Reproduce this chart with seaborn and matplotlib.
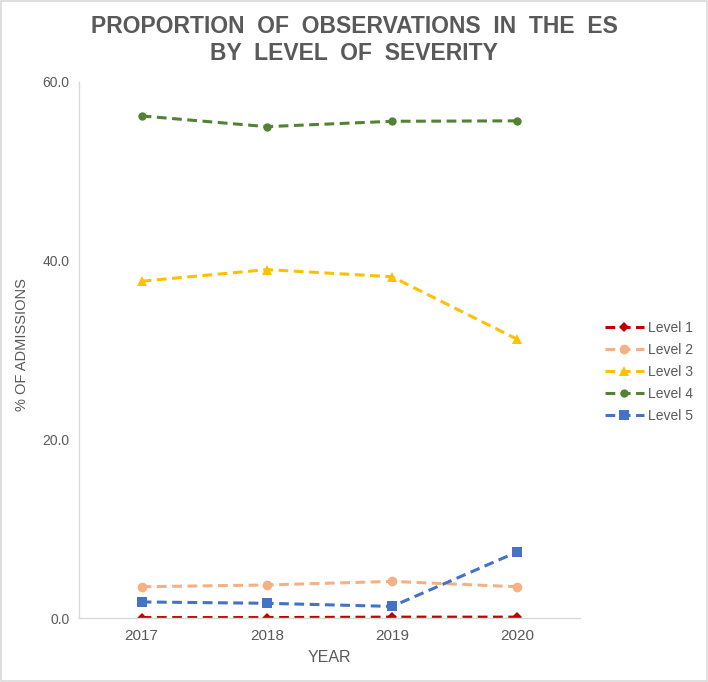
import numpy as np
import pandas as pd
import seaborn as sns
import matplotlib
matplotlib.use("Agg")
from matplotlib import pyplot as plt
from matplotlib.patches import Rectangle

years = ["2017", "2018", "2019", "2020"]
level_1 = [0.05, 0.05, 0.1, 0.1]
level_2 = [3.5, 3.7, 4.1, 3.5]
level_3 = [37.7, 39.0, 38.2, 31.2]
level_4 = [56.2, 55.0, 55.6, 55.65]
level_5 = [1.8, 1.65, 1.3, 7.4]

levels = ["Level 1", "Level 2", "Level 3", "Level 4", "Level 5"]
colors = ["#C00000", "#F4B183", "#FFC000", "#548235", "#4472C4"]
markers = ["D", "o", "^", "o", "s"]
msizes = [5, 7, 6.5, 6, 6.5]

df = pd.DataFrame({
  "year": years * 5,
  "value": level_1 + level_2 + level_3 + level_4 + level_5,
  "level": [lv for lv in levels for _ in years],
})

sns.set_style("white")
plt.rcParams['font.family'] = ['Liberation Sans', 'DejaVu Sans']

fig = plt.figure(figsize=(7.08, 6.82), dpi=100)
ax = fig.add_axes([0.1116, 0.0938, 0.819 - 0.1116, 0.8798 - 0.0938])

for lv, c, m, ms in zip(levels, colors, markers, msizes):
  sub = df[df["level"] == lv]
  sns.lineplot(data=sub, x="year", y="value", ax=ax, color=c, marker=m,
               markersize=ms, markeredgewidth=0, linewidth=2.2,
               dashes=False, sort=False, label=lv, linestyle=(0, (3.2, 1.8)))

grey = "#595959"
ax.set_xlim(-0.5, 3.5)
ax.set_ylim(0, 60)
ax.set_yticks([0, 20, 40, 60])
ax.set_yticklabels(["0.0", "20.0", "40.0", "60.0"])
ax.set_xticks(range(4))
ax.set_xticklabels(years)
ax.tick_params(axis="both", length=0, colors=grey)
ax.tick_params(axis="y", pad=7, labelsize=10)
ax.tick_params(axis="x", pad=8, labelsize=11)
for s in ["top", "right"]:
  ax.spines[s].set_visible(False)
ax.spines["left"].set_color("#D9D9D9")
ax.spines["bottom"].set_color("#D9D9D9")
ax.spines["left"].set_linewidth(1)
ax.spines["bottom"].set_linewidth(1)
ax.grid(False)

ax.set_xlabel("YEAR", color=grey, fontsize=11.5, labelpad=5)
ax.set_ylabel("% OF ADMISSIONS", color=grey, fontsize=10.5)
ax.yaxis.set_label_coords(-0.100, 0.51)

leg = ax.legend(loc="center left", bbox_to_anchor=(1.025, 0.459), frameon=False,
                fontsize=10, handlelength=2.8, labelspacing=0.58,
                handletextpad=0.3)
for t in leg.get_texts():
  t.set_color(grey)

fig.text(0.5, 0.978, "PROPORTION  OF  OBSERVATIONS  IN  THE  ES\nBY  LEVEL  OF  SEVERITY",
         ha="center", va="top", fontsize=16.5, fontweight="bold", color=grey,
         linespacing=1.2)

fig.patches.append(Rectangle((0.002, 0.002), 0.996, 0.996, transform=fig.transFigure,
                             fill=False, edgecolor="#D9D9D9", linewidth=1.2))

fig.savefig("out.png", dpi=100)
